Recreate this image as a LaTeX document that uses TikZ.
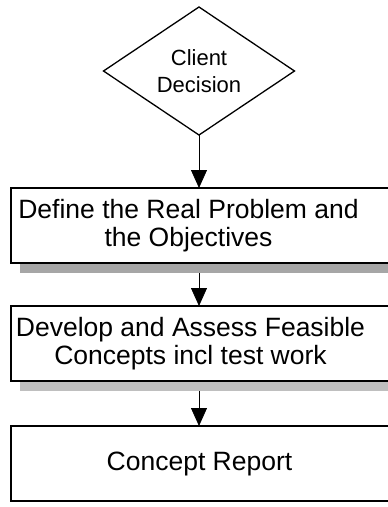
\documentclass[tikz,border=0pt]{standalone}
\usepackage{fontspec}
\setmainfont{Liberation Sans}
\usetikzlibrary{arrows.meta,positioning,shapes.geometric,shadows}

\tikzset{
  decision/.style={diamond,draw,line width=1.3pt,outer sep=0pt,inner sep=0pt,
    minimum width=191pt,minimum height=128pt,aspect=1.49,align=center,
    font=\fontsize{22}{27}\selectfont},
  stage/.style={rectangle,draw,line width=1.8pt,fill=white,outer sep=0pt,
    minimum width=379pt,minimum height=75pt},
  stagetext/.style={align=center,inner sep=0pt,font=\fontsize{26.5}{28}\selectfont},
  shade/.style={drop shadow={shadow xshift=9pt,shadow yshift=-10pt,fill=black!#1,opacity=1}},
  flow/.style={line width=0.8pt,-{Triangle[width=16pt,length=18pt]}}
}

\begin{document}
\begin{tikzpicture}[x=1pt,y=-1pt]
  \useasboundingbox (0,0) rectangle (388,507);
  \clip (0,0) rectangle (388,507);
  \node[decision] (dec) at (199,71) {Client\\Decision};
  \node[stage,shade=35,anchor=north west,
    label={[stagetext,xshift=-12pt]center:Define the Real Problem and\\the Objectives}]
    (real) at (11,188) {};
  \node[stage,shade=25,below=43pt of real,
    label={[stagetext,xshift=-10pt]center:Develop and Assess Feasible\\Concepts incl test work}]
    (conc) {};
  \node[stage,below=45pt of conc,
    label={[stagetext,xshift=-1pt]center:Concept Report}] (rep) {};
  % arrows start under the shadows
  \coordinate (s1) at ([yshift=-10pt]dec.south |- real.south);
  \coordinate (s2) at ([yshift=-10pt]dec.south |- conc.south);
  \draw[flow] (dec.south) -- (dec.south |- real.north);
  \draw[flow] (s1) -- (s1 |- conc.north);
  \draw[flow] (s2) -- (s2 |- rep.north);
\end{tikzpicture}
\end{document}
